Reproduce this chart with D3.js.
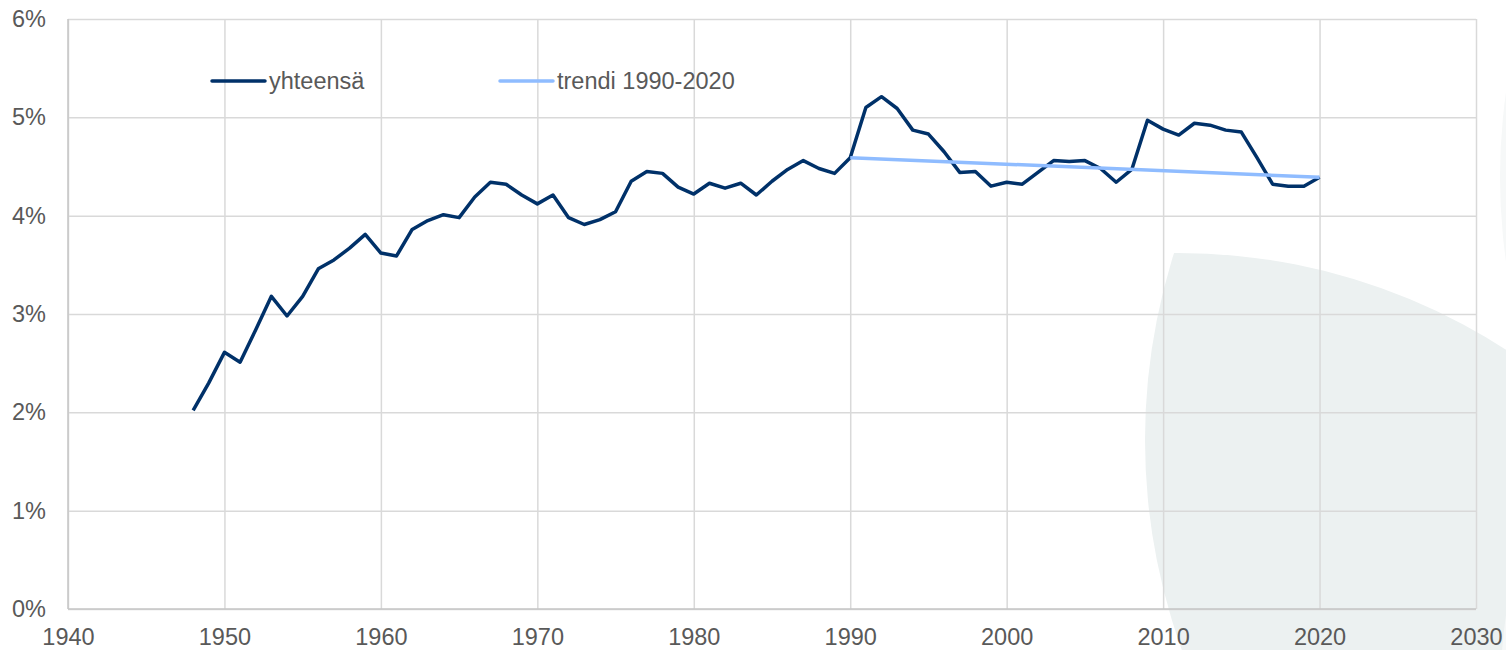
<!DOCTYPE html>
<html>
<head>
<meta charset="utf-8">
<script src="https://cdn.jsdelivr.net/npm/d3@7"></script>
<style>
    body { margin: 0; background: #fff; }
    #chart text { font-family: Arial, "Liberation Sans", sans-serif; fill: #595959; }
</style>
</head>
<body>
<div id="chart"></div>
<script>
// years 1948..2020
let years = d3.range(1948, 2021);

// yhteensä (%)
let total = [
    2.02, 2.30,
    2.61, 2.51, 2.84, 3.18, 2.98, 3.18, 3.46, 3.55, 3.67, 3.81,
    3.62, 3.59, 3.86, 3.95, 4.01, 3.98, 4.19, 4.34, 4.32, 4.21,
    4.12, 4.21, 3.98, 3.91, 3.96, 4.04, 4.35, 4.45, 4.43, 4.29,
    4.22, 4.33, 4.28, 4.33, 4.21, 4.35, 4.47, 4.56, 4.48, 4.43,
    4.59, 5.10, 5.21, 5.09, 4.87, 4.83, 4.65, 4.44, 4.45, 4.30,
    4.34, 4.32, 4.44, 4.56, 4.55, 4.56, 4.48, 4.34, 4.47, 4.97,
    4.88, 4.82, 4.94, 4.92, 4.87, 4.85, 4.59, 4.32, 4.30, 4.30,
    4.39
];

// trendi 1990-2020, end points
let trendYears = [1990, 2020];
let trendValues = [4.59, 4.39];

let xTicks = [1940, 1950, 1960, 1970, 1980, 1990, 2000, 2010, 2020, 2030];
let yTicks = [0, 1, 2, 3, 4, 5, 6];

let legendLabels = ["yhteensä", "trendi 1990-2020"];

let WIDTH = 1506,
    HEIGHT = 650,
    FONT = 23.5;

let x = d3.scaleLinear().domain([1940, 2030]).range([68, 1476]);
let y = d3.scaleLinear().domain([0, 6]).range([609, 19]);

let svg = d3.select('#chart')
    .append('svg')
    .attr('width', WIDTH)
    .attr('height', HEIGHT);

// decorative background shapes
let defs = svg.append('defs');
defs.append('clipPath').attr('id', 'lensClip')
    .append('circle').attr('cx', 1762).attr('cy', 440).attr('r', 617);

svg.append('circle')
    .attr('cx', 1178).attr('cy', 858).attr('r', 605)
    .attr('clip-path', 'url(#lensClip)')
    .attr('fill', '#ecf1f1');

svg.append('circle')
    .attr('cx', 2100).attr('cy', 177).attr('r', 600)
    .attr('fill', '#f6f8f8');

svg.append('circle')
    .attr('cx', 2100).attr('cy', 700).attr('r', 600)
    .attr('fill', '#f6f8f8');

// grid lines
svg.append('g')
    .attr('transform', `translate(0,${y(0)})`)
    .call(d3.axisBottom(x).tickValues(xTicks).tickSize(-(y(0) - y(6))).tickFormat(''))
    .call(g => g.select('.domain').remove())
    .call(g => g.selectAll('line').attr('stroke', '#d9d9d9').attr('stroke-width', 1.5));

svg.append('g')
    .attr('transform', `translate(${x(1940)},0)`)
    .call(d3.axisLeft(y).tickValues(yTicks).tickSize(-(x(2030) - x(1940))).tickFormat(''))
    .call(g => g.select('.domain').remove())
    .call(g => g.selectAll('line').attr('stroke', '#d9d9d9').attr('stroke-width', 1.5));

// axis lines
svg.append('line')
    .attr('x1', x(1940)).attr('x2', x(2030))
    .attr('y1', y(0)).attr('y2', y(0))
    .attr('stroke', '#c6c6c6').attr('stroke-width', 1.5);
svg.append('line')
    .attr('x1', x(1940)).attr('x2', x(1940))
    .attr('y1', y(0)).attr('y2', y(6))
    .attr('stroke', '#c6c6c6').attr('stroke-width', 1.5);

// tick labels
svg.append('g')
    .attr('transform', `translate(0,${y(0)})`)
    .call(d3.axisBottom(x).tickValues(xTicks).tickSize(0).tickPadding(28).tickFormat(d3.format('d')))
    .call(g => g.select('.domain').remove())
    .call(g => g.selectAll('text').attr('font-size', FONT).attr('dy', '0.32em'));

svg.append('g')
    .attr('transform', `translate(${x(1940)},0)`)
    .call(d3.axisLeft(y).tickValues(yTicks).tickSize(0).tickPadding(22).tickFormat(d => d + '%'))
    .call(g => g.select('.domain').remove())
    .call(g => g.selectAll('text').attr('font-size', FONT));

// lines
let line = d3.line()
    .x(d => x(d[0]))
    .y(d => y(d[1]));

svg.append('path')
    .datum(years.map((yr, i) => [yr, total[i]]))
    .attr('fill', 'none')
    .attr('stroke', '#003169')
    .attr('stroke-width', 3.5)
    .attr('stroke-linejoin', 'round')
    .attr('d', line);

svg.append('path')
    .datum(trendYears.map((yr, i) => [yr, trendValues[i]]))
    .attr('fill', 'none')
    .attr('stroke', '#8fbcff')
    .attr('stroke-width', 3.5)
    .attr('d', line);

// legend
let legend = [
    { label: legendLabels[0], color: '#003169', x: 212 },
    { label: legendLabels[1], color: '#8fbcff', x: 500 }
];

let lg = svg.selectAll('.legend')
    .data(legend)
    .enter()
    .append('g')
    .classed('legend', true)
    .attr('transform', d => `translate(${d.x},81)`);

lg.append('line')
    .attr('x1', 0).attr('x2', 53)
    .attr('stroke', d => d.color)
    .attr('stroke-width', 3.5)
    .attr('stroke-linecap', 'round');

lg.append('text')
    .attr('x', 57)
    .attr('dy', '0.35em')
    .attr('font-size', FONT)
    .text(d => d.label);
</script>
</body>
</html>
